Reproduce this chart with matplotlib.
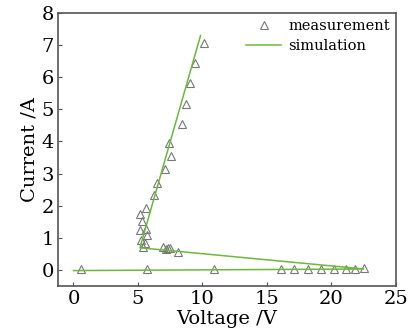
import matplotlib
matplotlib.use("Agg")
import matplotlib.pyplot as plt

# gemessene Punkte
meas_v = [10.1, 9.43, 9.0, 8.75, 8.38, 7.37, 7.53, 7.11, 6.5, 6.22,
          5.62, 5.13, 5.31, 5.13, 5.65, 5.73, 5.26, 5.52, 5.35,
          6.93, 7.19, 7.35, 7.5, 8.07,
          0.56, 5.7, 10.9, 16.1, 17.1, 18.2, 19.2, 20.2, 21.1, 21.8, 22.5]
meas_i = [7.06, 6.44, 5.81, 5.16, 4.54, 3.95, 3.55, 3.13, 2.72, 2.33,
          1.94, 1.75, 1.52, 1.23, 1.29, 1.08, 0.93, 0.83, 0.72,
          0.72, 0.66, 0.68, 0.68, 0.57,
          0.02, 0.02, 0.02, 0.02, 0.02, 0.02, 0.02, 0.02, 0.02, 0.03, 0.05]

# Simulation
sim_v = [0.0, 22.5, 5.15, 9.85]
sim_i = [-0.02, 0.03, 0.69, 7.30]

plt.rcParams['font.family'] = ['DejaVu Serif']
plt.rcParams['mathtext.fontset'] = 'dejavuserif'

fig = plt.figure(figsize=(4.14, 3.31), dpi=100)
ax = fig.add_axes([58/414, 1 - 286/331, (396-58)/414, (286-13)/331])

ax.plot(meas_v, meas_i, linestyle='none', marker='^', markersize=5.5,
        markerfacecolor='none', markeredgecolor='#777777', markeredgewidth=0.8,
        label='measurement')
ax.plot(sim_v, sim_i, color='#6cb83c', linewidth=1.1, label='simulation')

ax.set_xlim(-1.2, 25)
ax.set_ylim(-0.5, 8)
ax.set_xticks([0, 5, 10, 15, 20, 25])
ax.set_yticks(range(0, 9))
ax.tick_params(direction='in', length=3, width=0.8, color='#555555',
               labelsize=14, pad=3)
for s in ax.spines.values():
    s.set_color('#555555')
    s.set_linewidth(1.2)

ax.set_xlabel('Voltage /V', fontsize=14, labelpad=1)
ax.set_ylabel('Current /A', fontsize=14, labelpad=2)

ax.legend(loc='upper right', frameon=False, fontsize=10.5, handlelength=2.4,
          handletextpad=0.5, borderaxespad=0.0, labelspacing=0.45,
          borderpad=0.4)

fig.savefig('out.png', dpi=100)
